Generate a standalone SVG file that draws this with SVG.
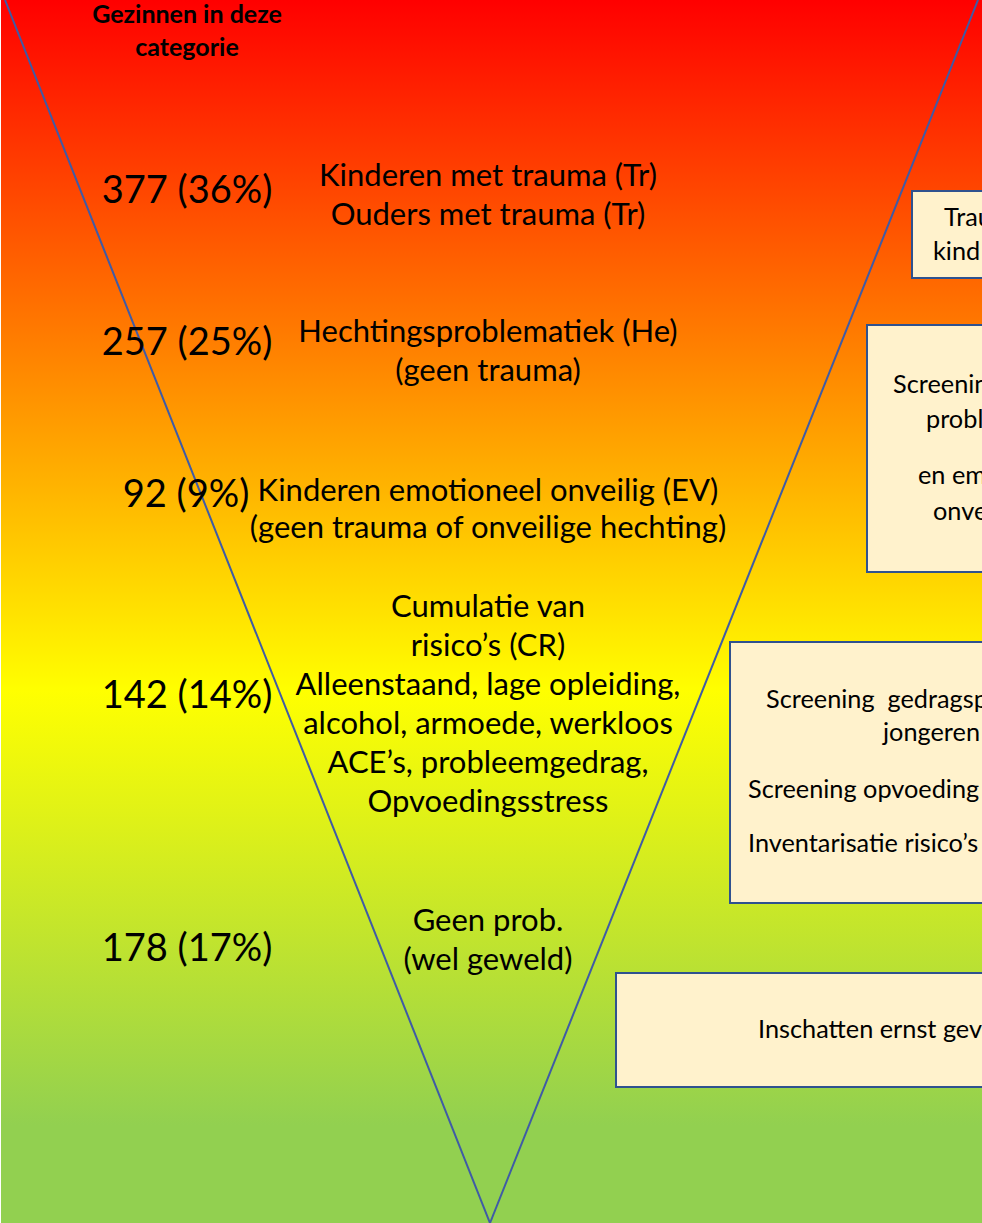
<svg xmlns="http://www.w3.org/2000/svg" width="982" height="1223" viewBox="0 0 982 1223">
<defs>
<linearGradient id="bg" x1="0" y1="0" x2="0" y2="1223" gradientUnits="userSpaceOnUse">
<stop offset="0" stop-color="#FF0000"/>
<stop offset="0.565" stop-color="#FFFF00"/>
<stop offset="0.92" stop-color="#92D050"/>
<stop offset="1" stop-color="#92D050"/>
</linearGradient>
<style>
.num{font-family:Lato,"Liberation Sans",sans-serif;font-size:38px;fill:#000;text-anchor:middle}
.ctr{font-family:Lato,"Liberation Sans",sans-serif;font-size:31px;fill:#000;text-anchor:middle}
.hdr{font-family:Lato,"Liberation Sans",sans-serif;font-size:25px;font-weight:bold;fill:#000;text-anchor:middle}
.box{fill:#FFF2CC;stroke:#2F528F;stroke-width:2}
.bt{font-family:Lato,"Liberation Sans",sans-serif;font-size:25.3px;fill:#000}
.edge{stroke:#3F5BA6;stroke-width:2;fill:none}
</style>
</defs>
<rect x="0" y="0" width="982" height="1223" fill="url(#bg)"/>
<rect x="0" y="0" width="1" height="1223" fill="#FFFFFF"/>
<g id="connectors">
<line class="edge" x1="5" y1="0" x2="490" y2="1223"/>
<line class="edge" x1="978" y1="0" x2="490" y2="1223"/>
</g>
<g id="header">
<text class="hdr" x="187" y="23">Gezinnen in deze</text>
<text class="hdr" x="187" y="56">categorie</text>
</g>
<g id="counts">
<text class="num" x="187" y="203">377 (36%)</text>
<text class="num" x="187" y="355">257 (25%)</text>
<text class="num" x="186" y="507">92 (9%)</text>
<text class="num" x="187" y="708">142 (14%)</text>
<text class="num" x="187" y="961">178 (17%)</text>
</g>
<g id="cat-tr">
<text class="ctr" x="488" y="186">Kinderen met trauma (Tr)</text>
<text class="ctr" x="488" y="225">Ouders met trauma (Tr)</text>
</g>
<g id="cat-he">
<text class="ctr" x="488" y="342">Hechtingsproblematiek (He)</text>
<text class="ctr" x="488" y="381">(geen trauma)</text>
</g>
<g id="cat-ev">
<text class="ctr" x="488" y="501">Kinderen emotioneel onveilig (EV)</text>
<text class="ctr" x="488" y="538">(geen trauma of onveilige hechting)</text>
</g>
<g id="cat-cr">
<text class="ctr" x="488" y="617">Cumulatie van</text>
<text class="ctr" x="488" y="656">risico’s (CR)</text>
<text class="ctr" x="488" y="695">Alleenstaand, lage opleiding,</text>
<text class="ctr" x="488" y="734">alcohol, armoede, werkloos</text>
<text class="ctr" x="488" y="773">ACE’s, probleemgedrag,</text>
<text class="ctr" x="488" y="812">Opvoedingsstress</text>
</g>
<g id="cat-gp">
<text class="ctr" x="488" y="931">Geen prob.</text>
<text class="ctr" x="488" y="970">(wel geweld)</text>
</g>
<g id="box-trauma">
<rect class="box" x="912" y="191" width="80" height="87"/>
<text class="bt" x="944" y="226">Trau</text>
<text class="bt" x="933" y="260">kind</text>
</g>
<g id="box-screening">
<rect class="box" x="867" y="325" width="125" height="247"/>
<text class="bt" x="893" y="393">Screenin</text>
<text class="bt" x="926" y="428">probl</text>
<text class="bt" x="918" y="484">en em</text>
<text class="bt" x="933" y="520">onve</text>
</g>
<g id="box-gedrag">
<rect class="box" x="730" y="642" width="262" height="261"/>
<text class="bt" x="766" y="708" xml:space="preserve">Screening  gedragsp</text>
<text class="bt" x="883" y="741">jongeren</text>
<text class="bt" x="748" y="798">Screening opvoeding</text>
<text class="bt" x="748" y="852">Inventarisatie risico’s</text>
</g>
<g id="box-geweld">
<rect class="box" x="616" y="973" width="376" height="114"/>
<text class="bt" x="758" y="1038">Inschatten ernst gev</text>
</g>
</svg>
